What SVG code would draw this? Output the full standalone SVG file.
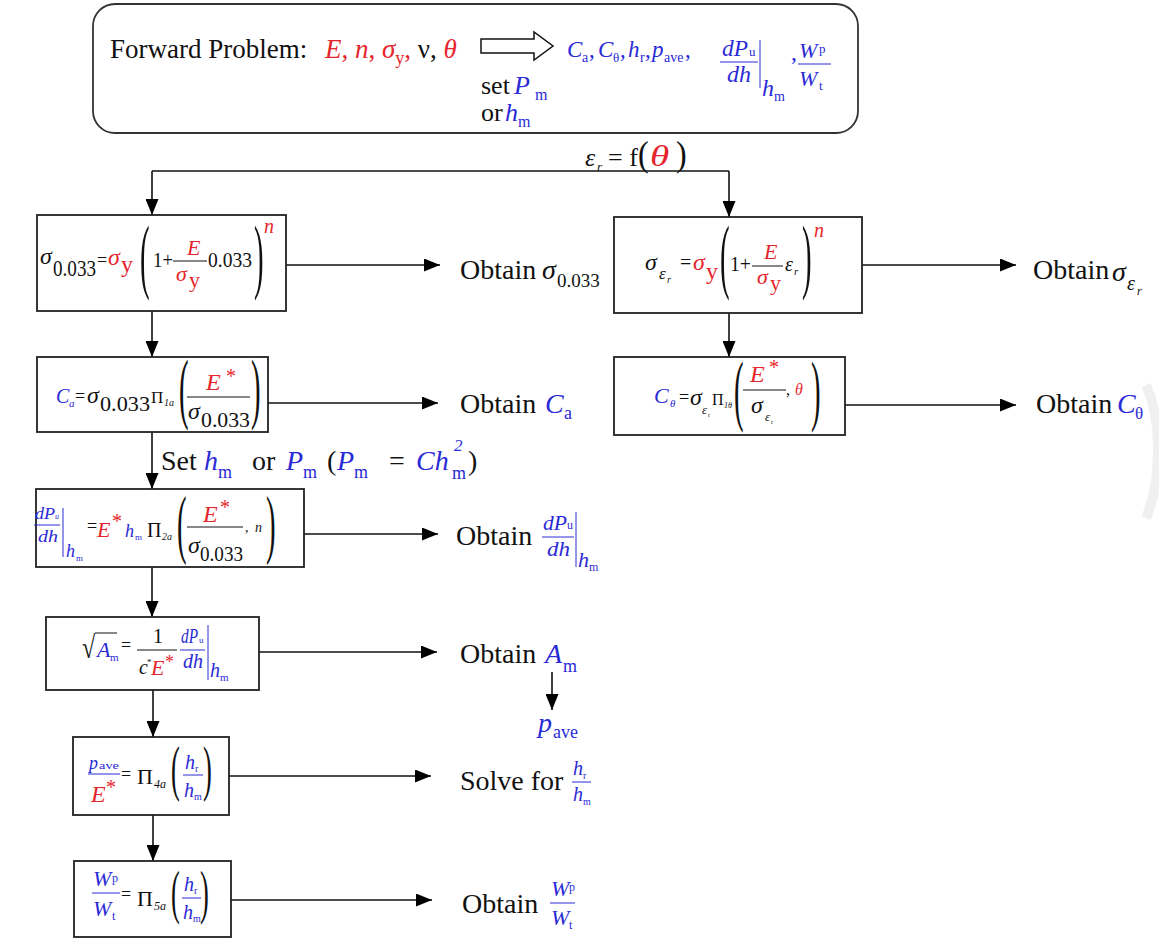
<svg xmlns="http://www.w3.org/2000/svg" width="1159" height="939" viewBox="0 0 1159 939" font-family="'Liberation Serif', Tinos, 'Times New Roman', Times, serif">
<style>
text{font-family:"Liberation Serif",Tinos,"Times New Roman",Times,serif;fill:#111}
.r{fill:#e5252c}
.b{fill:#2a2ad6}
.i{font-style:italic}
.box{fill:#fff;stroke:#222;stroke-width:1.8}
.fl{stroke:#111;stroke-width:1}
.fb{stroke:#2a2ad6;stroke-width:1}
.con{fill:none;stroke:#111;stroke-width:1.6}
.L{font-size:28px}
</style>
<defs>
<marker id="ah" viewBox="0 0 16 13" refX="16" refY="6.5" markerWidth="16" markerHeight="13" orient="auto" markerUnits="userSpaceOnUse"><path d="M0,0 L16,6.5 L0,13 z" fill="#000"/></marker>
</defs>
<rect width="1159" height="939" fill="#fff"/>
<path d="M1146,385 C1162,420 1162,480 1146,518" fill="none" stroke="#ececec" stroke-width="10" opacity="0.8"/>

<g id="connectors">
<path class="con" d="M152,171 H729"/>
<path class="con" d="M152,171 V215" marker-end="url(#ah)"/>
<path class="con" d="M729,171 V217" marker-end="url(#ah)"/>
<path class="con" d="M152,311 V357" marker-end="url(#ah)"/>
<path class="con" d="M729,313 V357" marker-end="url(#ah)"/>
<path class="con" d="M152,432 V489" marker-end="url(#ah)"/>
<path class="con" d="M152,567 V617" marker-end="url(#ah)"/>
<path class="con" d="M153,690 V737" marker-end="url(#ah)"/>
<path class="con" d="M153,815 V861" marker-end="url(#ah)"/>
<path class="con" d="M286,265 H440" marker-end="url(#ah)"/>
<path class="con" d="M862,265 H1016" marker-end="url(#ah)"/>
<path class="con" d="M268,403 H438" marker-end="url(#ah)"/>
<path class="con" d="M845,405 H1016" marker-end="url(#ah)"/>
<path class="con" d="M304,534 H438" marker-end="url(#ah)"/>
<path class="con" d="M259,652 H437" marker-end="url(#ah)"/>
<path class="con" d="M552,672 V710" marker-end="url(#ah)"/>
<path class="con" d="M229,776 H431" marker-end="url(#ah)"/>
<path class="con" d="M231,900 H432" marker-end="url(#ah)"/>
<g id="eps-label">
<text class="i" x="585" y="166" font-size="26">ε</text>
<text class="i" x="597" y="171" font-size="13">r</text>
<text x="608" y="166" font-size="26">= f</text>
<text transform="translate(638,166) scale(1,1.15)" font-size="32">(</text>
<text class="r i" transform="translate(650,166) scale(1.35,1)" font-size="29">θ</text>
<text transform="translate(676,166) scale(1,1.15)" font-size="32">)</text>
</g>
</g>

<g id="forward">
<rect x="93" y="4" width="765" height="129" rx="22" fill="#fff" stroke="#333" stroke-width="1.8"/>
<text x="110" y="58" font-size="27">Forward Problem:</text>
<text x="325" y="58" font-size="27"><tspan class="r i">E</tspan><tspan class="r">, </tspan><tspan class="r i">n</tspan><tspan class="r">, </tspan><tspan class="r i">σ</tspan><tspan class="r" font-size="18" dy="6">y</tspan><tspan class="r" dy="-6">, </tspan><tspan>ν, </tspan><tspan class="r i">θ</tspan></text>
<polygon points="481,39 534,39 534,32 553,46 534,60 534,53 481,53" fill="#fff" stroke="#111" stroke-width="1.5"/>
<text x="481" y="94" font-size="26">set</text>
<text class="b i" x="514" y="94" font-size="26">P</text>
<text class="b" x="535" y="100" font-size="16">m</text>
<text x="481" y="121" font-size="26">or</text>
<text class="b i" x="505" y="121" font-size="26">h</text>
<text class="b" x="518" y="127" font-size="16">m</text>
<text class="b i" x="567" y="57" font-size="23">C</text>
<text class="b" x="582" y="62" font-size="14">a</text>
<text class="b" x="589" y="57" font-size="23">,</text>
<text class="b i" x="598" y="57" font-size="23">C</text>
<text class="b" x="613" y="62" font-size="13">θ</text>
<text class="b" x="620" y="57" font-size="23">,</text>
<text class="b i" x="628" y="57" font-size="23">h</text>
<text class="b" x="640" y="62" font-size="14">r</text>
<text class="b" x="645" y="57" font-size="23">,</text>
<text class="b i" x="652" y="57" font-size="23">p</text>
<text class="b" x="664" y="62" font-size="14">ave</text>
<text class="b" x="685" y="57" font-size="23">,</text>
<text class="b i" x="722" y="56" font-size="24" textLength="26" lengthAdjust="spacingAndGlyphs">dP</text>
<text class="b" x="749" y="56" font-size="13">u</text>
<line class="fb" x1="720" y1="62" x2="758" y2="62"/>
<text class="b i" x="727" y="82" font-size="24" textLength="24" lengthAdjust="spacingAndGlyphs">dh</text>
<line class="fb" x1="760" y1="40" x2="760" y2="88"/>
<text class="b i" x="762" y="96" font-size="24">h</text>
<text class="b" x="774" y="101" font-size="14">m</text>
<text class="b" x="791" y="60" font-size="24">,</text>
<text class="b i" x="799" y="58" font-size="22">W</text>
<text class="b" x="819" y="53" font-size="13">p</text>
<line class="fb" x1="798" y1="64" x2="831" y2="64"/>
<text class="b i" x="799" y="86" font-size="22">W</text>
<text class="b" x="819" y="90" font-size="13">t</text>
</g>

<g id="box-s0033">
<rect class="box" x="37" y="215" width="249" height="96"/>
<text class="i" x="40" y="264" font-size="24">σ</text>
<text x="53" y="276" font-size="24" textLength="43" lengthAdjust="spacingAndGlyphs">0.033</text>
<text x="97" y="266" font-size="18">=</text>
<text class="r i" x="108" y="265" font-size="24">σ</text>
<text class="r" x="121" y="272" font-size="24">y</text>
<text transform="translate(140,283) scale(1.2,3.45)" font-size="24">(</text>
<text x="153" y="267" font-size="22" textLength="20" lengthAdjust="spacingAndGlyphs">1+</text>
<text class="r i" x="187" y="255" font-size="22">E</text>
<line class="fl" x1="173" y1="261" x2="207" y2="261"/>
<text class="r i" x="176" y="281" font-size="22">σ</text>
<text class="r" x="189" y="287" font-size="22">y</text>
<text x="208" y="267" font-size="22" textLength="44" lengthAdjust="spacingAndGlyphs">0.033</text>
<text transform="translate(254,283) scale(1.2,3.45)" font-size="24">)</text>
<text class="r i" x="264" y="233" font-size="20">n</text>
</g>

<g id="box-ser">
<rect class="box" x="614" y="217" width="248" height="96"/>
<text class="i" x="645" y="270" font-size="24">σ</text>
<text class="i" x="659" y="279" font-size="17">ε</text>
<text class="i" x="667" y="283" font-size="10">r</text>
<text x="680" y="269" font-size="20">=</text>
<text class="r i" x="693" y="270" font-size="24">σ</text>
<text class="r" x="706" y="279" font-size="24">y</text>
<text transform="translate(720,283) scale(1.2,3.45)" font-size="24">(</text>
<text x="730" y="271" font-size="22" textLength="21" lengthAdjust="spacingAndGlyphs">1+</text>
<text class="r i" x="764" y="259" font-size="22">E</text>
<line class="fl" x1="752" y1="266" x2="783" y2="266"/>
<text class="r i" x="757" y="284" font-size="22">σ</text>
<text class="r" x="770" y="290" font-size="22">y</text>
<text class="i" x="785" y="271" font-size="20">ε</text>
<text class="i" x="794" y="275" font-size="11">r</text>
<text transform="translate(802,283) scale(1.2,3.45)" font-size="24">)</text>
<text class="r i" x="814" y="237" font-size="20">n</text>
</g>

<g id="box-ca">
<rect class="box" x="37" y="357" width="231" height="75"/>
<text class="b i" x="56" y="403" font-size="20">C</text>
<text class="b i" x="69" y="407" font-size="11">a</text>
<text x="75" y="402" font-size="18">=</text>
<text class="i" x="87" y="403" font-size="24">σ</text>
<text x="100" y="411" font-size="22" textLength="50" lengthAdjust="spacingAndGlyphs">0.033</text>
<text x="151" y="403" font-size="17">Π</text>
<text class="i" x="164" y="406" font-size="10">1a</text>
<text transform="translate(179,414) scale(1.2,3.3)" font-size="24">(</text>
<text class="r i" x="206" y="390" font-size="24">E</text>
<text class="r" x="226" y="383" font-size="20">*</text>
<line class="fl" x1="187" y1="397" x2="250" y2="397"/>
<text class="i" x="188" y="419" font-size="24">σ</text>
<text x="201" y="427" font-size="22" textLength="49" lengthAdjust="spacingAndGlyphs">0.033</text>
<text transform="translate(251,414) scale(1.2,3.3)" font-size="24">)</text>
</g>

<g id="box-ct">
<rect class="box" x="614" y="357" width="231" height="78"/>
<text class="b i" x="654" y="403" font-size="22">C</text>
<text class="b i" x="670" y="407" font-size="11">θ</text>
<text x="679" y="403" font-size="18">=</text>
<text class="i" x="690" y="405" font-size="24">σ</text>
<text class="i" x="702" y="414" font-size="13">ε</text>
<text x="708" y="417" font-size="6">r</text>
<text x="712" y="405" font-size="16">Π</text>
<text class="i" x="724" y="408" font-size="8">1θ</text>
<text transform="translate(734,416) scale(1.2,3.3)" font-size="24">(</text>
<text class="r i" x="750" y="382" font-size="24">E</text>
<text class="r" x="769" y="374" font-size="20">*</text>
<line class="fl" x1="743" y1="390" x2="786" y2="390"/>
<text class="i" x="751" y="413" font-size="24">σ</text>
<text class="i" x="765" y="421" font-size="13">ε</text>
<text x="771" y="424" font-size="6">r</text>
<text x="786" y="395" font-size="16">,</text>
<text class="r i" x="795" y="395" font-size="16">θ</text>
<text transform="translate(811,416) scale(1.2,3.3)" font-size="24">)</text>
</g>

<g id="box-dpdh">
<rect class="box" x="36" y="489" width="268" height="78"/>
<text class="b i" x="35" y="519" font-size="17" textLength="20" lengthAdjust="spacingAndGlyphs">dP</text>
<text class="b i" x="55" y="519" font-size="8">u</text>
<line class="fb" x1="34" y1="525" x2="60" y2="525"/>
<text class="b i" x="38" y="542" font-size="17" textLength="20" lengthAdjust="spacingAndGlyphs">dh</text>
<line class="fb" x1="63" y1="508" x2="63" y2="557"/>
<text class="b i" x="66" y="557" font-size="18">h</text>
<text class="b" x="76" y="561" font-size="9">m</text>
<text x="87" y="532" font-size="18">=</text>
<text class="r i" x="97" y="537" font-size="22">E</text>
<text class="r" x="112" y="528" font-size="20">*</text>
<text class="b i" x="125" y="537" font-size="18">h</text>
<text class="b" x="135" y="540" font-size="9">m</text>
<text x="147" y="537" font-size="20">Π</text>
<text class="i" x="162" y="540" font-size="10">2a</text>
<text transform="translate(177,549) scale(1.2,3.2)" font-size="24">(</text>
<text class="r i" x="203" y="522" font-size="24">E</text>
<text class="r" x="220" y="514" font-size="20">*</text>
<line class="fl" x1="187" y1="527" x2="243" y2="527"/>
<text class="i" x="188" y="553" font-size="24">σ</text>
<text x="200" y="561" font-size="22" textLength="43" lengthAdjust="spacingAndGlyphs">0.033</text>
<text x="245" y="532" font-size="14">,</text>
<text class="i" x="255" y="532" font-size="14">n</text>
<text transform="translate(266,549) scale(1.2,3.2)" font-size="24">)</text>
</g>

<g id="box-am">
<rect class="box" x="46" y="617" width="213" height="73"/>
<text transform="translate(82,658) scale(1,1.3)" font-size="24">√</text>
<line class="fl" x1="95" y1="633" x2="117" y2="633"/>
<text class="b i" x="97" y="657" font-size="22">A</text>
<text class="b" x="110" y="661" font-size="11">m</text>
<text x="121" y="651" font-size="18">=</text>
<text x="153" y="643" font-size="20">1</text>
<line class="fl" x1="137" y1="650" x2="177" y2="650"/>
<text class="i" x="139" y="674" font-size="20">c</text>
<text x="147" y="665" font-size="9">*</text>
<text class="r i" x="151" y="675" font-size="22">E</text>
<text class="r" x="165" y="668" font-size="18">*</text>
<text class="b i" x="181" y="643" font-size="20" textLength="17" lengthAdjust="spacingAndGlyphs">dP</text>
<text class="b" x="199" y="643" font-size="9">u</text>
<line class="fb" x1="180" y1="650" x2="205" y2="650"/>
<text class="b i" x="183" y="668" font-size="20" textLength="20" lengthAdjust="spacingAndGlyphs">dh</text>
<line class="fb" x1="208" y1="625" x2="208" y2="680"/>
<text class="b i" x="210" y="677" font-size="20">h</text>
<text class="b" x="220" y="681" font-size="11">m</text>
</g>

<g id="box-pave">
<rect class="box" x="73" y="737" width="156" height="78"/>
<text class="b i" x="89" y="769" font-size="18">p</text>
<text class="b" x="99" y="769" font-size="11" textLength="20" lengthAdjust="spacingAndGlyphs">ave</text>
<line class="fb" x1="88" y1="774" x2="120" y2="774"/>
<text class="r i" x="91" y="802" font-size="24">E</text>
<text class="r" x="106" y="794" font-size="20">*</text>
<text x="121" y="780" font-size="18">=</text>
<text x="137" y="784" font-size="22">Π</text>
<text class="i" x="154" y="788" font-size="12">4a</text>
<text transform="translate(171,789) scale(1.1,2.57)" font-size="24">(</text>
<text class="b i" x="185" y="769" font-size="20">h</text>
<text class="b" x="195" y="772" font-size="10">r</text>
<line class="fb" x1="183" y1="775" x2="203" y2="775"/>
<text class="b i" x="184" y="797" font-size="20">h</text>
<text class="b" x="194" y="800" font-size="10">m</text>
<text transform="translate(203,789) scale(1.1,2.57)" font-size="24">)</text>
</g>

<g id="box-wp">
<rect class="box" x="74" y="861" width="157" height="76"/>
<text class="b i" x="93" y="886" font-size="22">W</text>
<text class="b" x="112" y="882" font-size="12">p</text>
<line class="fb" x1="92" y1="893" x2="120" y2="893"/>
<text class="b i" x="93" y="916" font-size="22">W</text>
<text class="b" x="112" y="920" font-size="12">t</text>
<text x="121" y="900" font-size="18">=</text>
<text x="137" y="906" font-size="22">Π</text>
<text class="i" x="154" y="910" font-size="12">5a</text>
<text transform="translate(171,912) scale(1.1,2.48)" font-size="24">(</text>
<text class="b i" x="184" y="891" font-size="20">h</text>
<text class="b" x="194" y="894" font-size="10">r</text>
<line class="fb" x1="182" y1="898" x2="201" y2="898"/>
<text class="b i" x="183" y="919" font-size="20">h</text>
<text class="b" x="193" y="922" font-size="10">m</text>
<text transform="translate(200,912) scale(1.1,2.48)" font-size="24">)</text>
</g>

<g id="out-s0033">
<text class="L" x="460" y="279">Obtain</text>
<text class="i" x="542" y="279" font-size="28">σ</text>
<text x="557" y="287" font-size="19">0.033</text>
</g>
<g id="out-ser">
<text class="L" x="1033" y="279">Obtain</text>
<text class="i" x="1112" y="281" font-size="28">σ</text>
<text class="i" x="1127" y="290" font-size="20">ε</text>
<text class="i" x="1137" y="295" font-size="12">r</text>
</g>
<g id="out-ca">
<text class="L" x="460" y="413">Obtain</text>
<text class="b i" x="545" y="413" font-size="28">C</text>
<text class="b" x="564" y="419" font-size="18">a</text>
</g>
<g id="out-ct">
<text class="L" x="1036" y="413">Obtain</text>
<text class="b i" x="1117" y="413" font-size="28">C</text>
<text class="b" x="1135" y="419" font-size="17">θ</text>
</g>
<g id="set-label">
<text class="L" x="161" y="470">Set</text>
<text class="b i" x="204" y="470" font-size="28">h</text>
<text class="b" x="218" y="478" font-size="18">m</text>
<text class="L" x="252" y="470">or</text>
<text class="b i" x="286" y="470" font-size="28">P</text>
<text class="b" x="303" y="478" font-size="18">m</text>
<text class="L" x="327" y="470">(</text>
<text class="b i" x="337" y="470" font-size="28">P</text>
<text class="b" x="354" y="478" font-size="18">m</text>
<text class="L" x="389" y="470">=</text>
<text class="b i" x="416" y="470" font-size="28">Ch</text>
<text class="b i" x="454" y="451" font-size="17">2</text>
<text class="b" x="452" y="479" font-size="18">m</text>
<text class="L" x="468" y="470">)</text>
</g>
<g id="out-dpdh">
<text class="L" x="456" y="545">Obtain</text>
<text class="b i" x="543" y="530" font-size="22" textLength="24" lengthAdjust="spacingAndGlyphs">dP</text>
<text class="b" x="567" y="529" font-size="12">u</text>
<line class="fb" x1="542" y1="537" x2="574" y2="537"/>
<text class="b i" x="547" y="556" font-size="22" textLength="23" lengthAdjust="spacingAndGlyphs">dh</text>
<line class="fb" x1="576" y1="512" x2="576" y2="567"/>
<text class="b i" x="578" y="567" font-size="22">h</text>
<text class="b" x="589" y="571" font-size="12">m</text>
</g>
<g id="out-am">
<text class="L" x="460" y="663">Obtain</text>
<text class="b i" x="545" y="663" font-size="28">A</text>
<text class="b" x="563" y="672" font-size="18">m</text>
</g>
<g id="out-pave">
<text class="b i" x="538" y="732" font-size="28">p</text>
<text class="b" x="553" y="738" font-size="18">ave</text>
</g>
<g id="out-hr">
<text class="L" x="460" y="790">Solve for</text>
<text class="b i" x="573" y="775" font-size="20">h</text>
<text class="b" x="583" y="779" font-size="10">r</text>
<line class="fb" x1="572" y1="782" x2="591" y2="782"/>
<text class="b i" x="573" y="801" font-size="20">h</text>
<text class="b" x="583" y="805" font-size="10">m</text>
</g>
<g id="out-wp">
<text class="L" x="462" y="913">Obtain</text>
<text class="b i" x="551" y="896" font-size="22">W</text>
<text class="b" x="569" y="891" font-size="12">p</text>
<line class="fb" x1="550" y1="903" x2="575" y2="903"/>
<text class="b i" x="551" y="925" font-size="22">W</text>
<text class="b" x="569" y="929" font-size="12">t</text>
</g>
</svg>
